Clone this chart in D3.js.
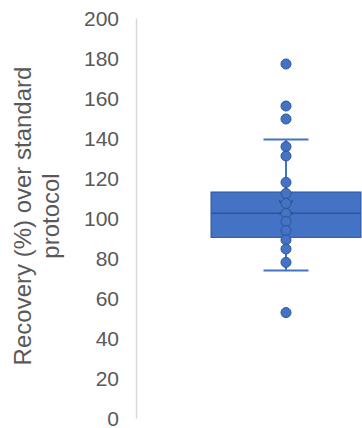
<!DOCTYPE html>
<html>
<head>
<meta charset="utf-8">
<script src="https://cdn.jsdelivr.net/npm/d3@7"></script>
<style>
html,body{margin:0;padding:0;background:#fff;}
svg{display:block;}
</style>
</head>
<body>
<svg id="chart" width="362" height="428"></svg>
<script>
// Data
const categories = ["Sample"];
const pointValues = [177, 156, 149.5, 135.7, 131, 117.8, 112.3, 107.3, 102.3, 98.2, 93.7, 89, 84.5, 77.8, 52.7];
const boxStats = { q1: 90.3, median: 102.4, q3: 113, whiskerLow: 73.7, whiskerHigh: 139.2, mean: 105.3 };
const yTicks = [0, 20, 40, 60, 80, 100, 120, 140, 160, 180, 200];
const yLabelLines = ["Recovery (%) over standard", "protocol"];

const svg = d3.select("#chart");
const blue = "#4472C4", dark = "#2F5597", textCol = "#595959";

const y = d3.scaleLinear().domain([0, 200]).range([418, 18]);
const x = d3.scaleBand().domain(categories).range([136, 436]).paddingInner(0).paddingOuter(0.5);

// axis
const yAxis = d3.axisLeft(y).tickValues(yTicks).tickSize(0).tickPadding(17);
const gAxis = svg.append("g").attr("transform", "translate(136,0)").call(yAxis);
gAxis.select(".domain").attr("stroke", "#d9d9d9").attr("stroke-width", 1.5);
gAxis.selectAll("text").attr("fill", textCol).attr("font-family", "Liberation Sans, Arial, sans-serif").attr("font-size", 21).attr("dy", "0.35em");

// y label
const lbl = svg.append("g");
yLabelLines.forEach((t, i) => {
  lbl.append("text")
    .attr("transform", `translate(${30.5 + i * 28.5},216) rotate(-90)`)
    .attr("text-anchor", "middle")
    .attr("fill", textCol)
    .attr("font-family", "Liberation Sans, Arial, sans-serif")
    .attr("font-size", 24)
    .text(t);
});

// box
categories.forEach(c => {
  const x0 = x(c), bw = x.bandwidth(), cx = x0 + bw / 2;
  const capW = 45;
  const g = svg.append("g");
  // whiskers
  g.append("line").attr("x1", cx).attr("x2", cx).attr("y1", y(boxStats.q3)).attr("y2", y(boxStats.whiskerHigh)).attr("stroke", blue).attr("stroke-width", 2);
  g.append("line").attr("x1", cx).attr("x2", cx).attr("y1", y(boxStats.q1)).attr("y2", y(boxStats.whiskerLow)).attr("stroke", blue).attr("stroke-width", 2);
  g.append("line").attr("x1", cx - capW / 2).attr("x2", cx + capW / 2).attr("y1", y(boxStats.whiskerHigh)).attr("y2", y(boxStats.whiskerHigh)).attr("stroke", blue).attr("stroke-width", 2);
  g.append("line").attr("x1", cx - capW / 2).attr("x2", cx + capW / 2).attr("y1", y(boxStats.whiskerLow)).attr("y2", y(boxStats.whiskerLow)).attr("stroke", blue).attr("stroke-width", 2);
  // box
  g.append("rect").attr("x", x0).attr("width", bw).attr("y", y(boxStats.q3)).attr("height", y(boxStats.q1) - y(boxStats.q3))
    .attr("fill", blue).attr("stroke", dark).attr("stroke-width", 1);
  g.append("line").attr("x1", x0).attr("x2", x0 + bw).attr("y1", y(boxStats.median)).attr("y2", y(boxStats.median)).attr("stroke", dark).attr("stroke-width", 1.5);
  // mean marker X
  const my = y(boxStats.mean), s = 7;
  g.append("path").attr("d", `M${cx - s},${my - s}L${cx + s},${my + s}M${cx - s},${my + s}L${cx + s},${my - s}`).attr("stroke", dark).attr("stroke-width", 1.5).attr("fill", "none");
  // points
  g.selectAll("circle").data(pointValues).join("circle")
    .attr("cx", cx).attr("cy", d => y(d)).attr("r", 5)
    .attr("fill", blue).attr("stroke", dark).attr("stroke-width", 1);
});
</script>
</body>
</html>
